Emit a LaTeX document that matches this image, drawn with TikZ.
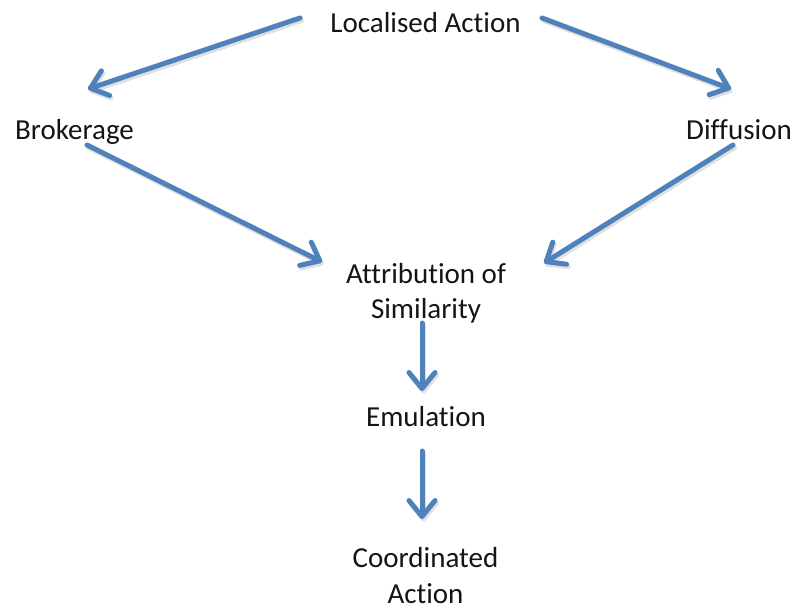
\documentclass[tikz,border=0pt]{standalone}
\usepackage{fontspec}
\setmainfont{Carlito}[Ligatures={NoCommon,NoContextual}]
\usetikzlibrary{arrows.meta}
\definecolor{arrowblue}{RGB}{79,129,189}
\definecolor{txt}{RGB}{20,20,20}
\begin{document}
\begin{tikzpicture}[x=1pt,y=-1pt,
  lbl/.style={font=\fontsize{29}{35.5}\selectfont, text=txt, inner sep=0pt, align=center, anchor=base},
  flow/.style={draw=arrowblue, line width=5pt, line cap=round,
    -{Straight Barb[length=16pt,width=26pt,round]}},
  shade/.style={draw=black!12, line width=5pt, line cap=round,
    -{Straight Barb[length=16pt,width=26pt,round]}, transform canvas={shift={(1.5pt,-2.5pt)}}}]
\useasboundingbox (0,0) rectangle (794,608);
\node[lbl] (loc) at (425.5,32) {Localised Action};
\node[lbl] (brok) at (74.5,139) {Brokerage};
\node[lbl] (diff) at (739,139) {Diffusion};
\node[lbl] (attr) at (426,318.5) {Attribution of\\Similarity};
\node[lbl] (emu) at (426,426) {Emulation};
\node[lbl] (coord) at (425.5,603) {Coordinated\\Action};
% connector end points
\coordinate (locL) at (300,18);
\coordinate (locR) at (542,18);
\coordinate (brokIn) at (88,89);
\coordinate (diffIn) at (731,89);
\coordinate (brokOut) at (87,145);
\coordinate (diffOut) at (733,145);
\coordinate (attrInL) at (322,262);
\coordinate (attrInR) at (544,263);
\coordinate (attrOut) at (422,323);
\coordinate (emuIn) at (422,391);
\coordinate (emuOut) at (422,451);
\coordinate (coordIn) at (422,519);
\foreach \a/\b in {locL/brokIn, locR/diffIn, brokOut/attrInL, diffOut/attrInR, attrOut/emuIn, emuOut/coordIn}{
  \draw[shade] (\a) -- (\b);
}
\draw[flow] (locL) -- (brokIn);
\draw[flow] (locR) -- (diffIn);
\draw[flow] (brokOut) -- (attrInL);
\draw[flow] (diffOut) -- (attrInR);
\draw[flow] (attrOut) -- (emuIn);
\draw[flow] (emuOut) -- (coordIn);
\end{tikzpicture}
\end{document}
